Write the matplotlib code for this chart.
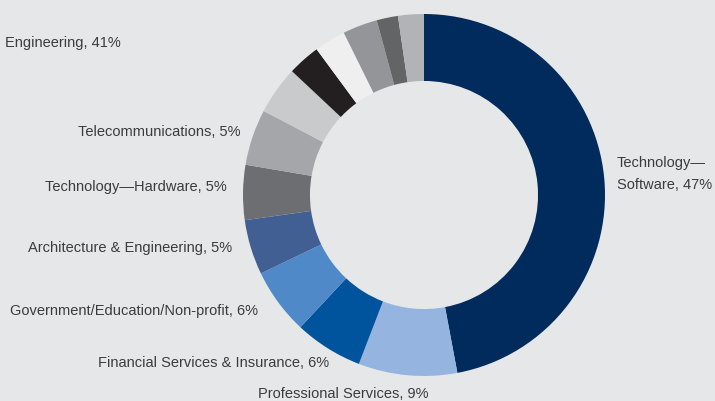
import matplotlib
matplotlib.use('Agg')
import matplotlib.pyplot as plt

# slice shares (clockwise from 12 o'clock)
shares = [47.0, 8.8, 6.1, 5.9, 4.9, 4.9, 5.0, 4.3, 2.9, 2.8, 3.1, 1.9, 2.3]
colors = ['#002b5c', '#95b4e0', '#00549e', '#4f89c8', '#425f93',
          '#6d6e71', '#a5a6a9', '#c9cacc', '#231f20', '#efeff0',
          '#939598', '#636466', '#b2b3b6']

# labels as they appear in the picture
labels = ['Engineering, 41%',
          'Telecommunications, 5%',
          'Technology\u2014Hardware, 5%',
          'Architecture & Engineering, 5%',
          'Government/Education/Non-profit, 6%',
          'Financial Services & Insurance, 6%',
          'Professional Services, 9%',
          'Technology\u2014\nSoftware, 47%']

# label anchors in pixels (x, y from top), and alignment
label_pos = [(5, 43, 'left'), (241, 132, 'right'), (227, 187, 'right'),
             (232, 248, 'right'), (258, 311, 'right'), (329, 363, 'right'),
             (428, 394, 'right'), (617, 174, 'left')]

W, H = 715, 401
bg = '#e6e7e8'

plt.rcParams['font.family'] = ['Liberation Sans', 'DejaVu Sans']

fig = plt.figure(figsize=(W / 100, H / 100), dpi=100, facecolor=bg)
ax = fig.add_axes([0, 0, 1, 1])
ax.set_facecolor(bg)

ax.pie(shares, colors=colors, startangle=90, counterclock=False,
       center=(424, H - 195), radius=181, frame=True,
       wedgeprops=dict(width=181 * 0.37, linewidth=0))
ax.set_xlim(0, W)
ax.set_ylim(0, H)
ax.set_aspect('equal')
ax.axis('off')

for text, (x, y, ha) in zip(labels, label_pos):
    ax.text(x, H - y, text, ha=ha, va='center', fontsize=10.5,
            color='#3c3c3e', linespacing=1.65)

fig.savefig('out.png', dpi=100, facecolor=bg)
